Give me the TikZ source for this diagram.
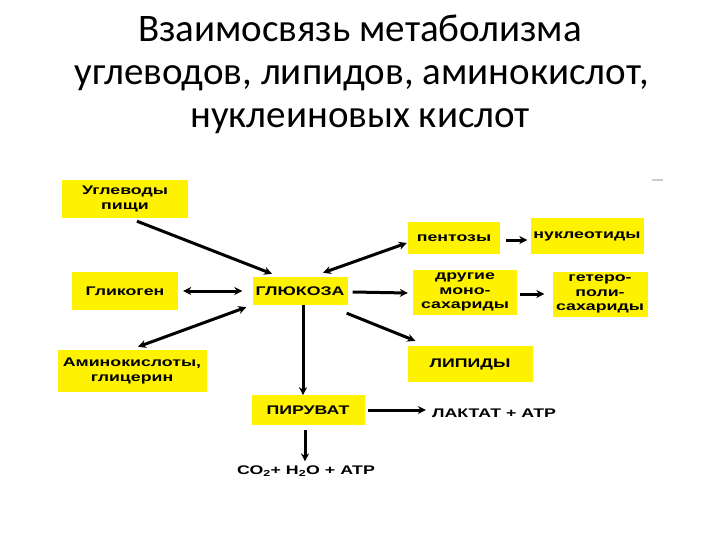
\documentclass[tikz,border=0pt]{standalone}
\usepackage{fontspec}
\setmainfont{Carlito}
\newfontfamily\boxfont{Liberation Sans Bold}[FakeStretch=1.42]
\usetikzlibrary{arrows.meta,calc}
\definecolor{boxyellow}{RGB}{255,242,0}
\tikzset{
  ybox/.style={fill=boxyellow, draw=none, inner sep=1pt, align=center,
    font=\boxfont\fontsize{12.5}{14.5}\selectfont},
  plain/.style={inner sep=1pt, align=center,
    font=\boxfont\fontsize{12.5}{14.5}\selectfont},
  conn/.style={line width=3pt, -{Stealth[length=8pt,width=8pt]}},
  biconn/.style={line width=3pt, {Stealth[length=8pt,width=8pt]}-{Stealth[length=8pt,width=8pt]}},
  ttl/.style={font=\fontsize{39}{43}\selectfont, inner sep=0pt, anchor=base}
}
\begin{document}
\begin{tikzpicture}[x=1pt,y=-1pt]
\useasboundingbox (0,0) rectangle (720,540);
% title
\node[ttl] (t1) at (360,42) {Взаимосвязь метаболизма};
\node[ttl] (t2) at (362,85) {углеводов, липидов, аминокислот,};
\node[ttl] (t3) at (360,128) {нуклеиновых кислот};
% boxes
\node[ybox, minimum width=126pt, minimum height=38pt] (ug) at (125,199) {Углеводы\\пищи};
\node[ybox, minimum width=106pt, minimum height=38pt] (gly) at (125,291) {Гликоген};
\node[ybox, minimum width=95pt, minimum height=28pt] (glu) at (300,291) {ГЛЮКОЗА};
\node[ybox, minimum width=149pt, minimum height=42pt] (ami) at (132,371) {Аминокислоты,\\глицерин};
\node[ybox, minimum width=113pt, minimum height=30pt] (pyr) at (308,410) {ПИРУВАТ};
\node[ybox, minimum width=125pt, minimum height=36pt] (lip) at (470,364) {ЛИПИДЫ};
\node[ybox, minimum width=92pt, minimum height=31pt] (pen) at (454,238) {пентозы};
\node[ybox, minimum width=113pt, minimum height=35pt] (nuc) at (587,236) {нуклеотиды};
\node[ybox, minimum width=104pt, minimum height=45pt] (mon) at (465,292) {другие\\моно-\\сахариды};
\node[ybox, minimum width=95pt, minimum height=45pt] (het) at (600,294) {гетеро-\\поли-\\сахариды};
\node[plain] (lac) at (494,413) {ЛАКТАТ + АТР};
\node[plain] (co2) at (306,471) {СО\textsubscript{2}+ Н\textsubscript{2}О + АТР};
% connectors
\draw[conn] ($(ug.south)+(12,3)$) -- ($(glu.north)+(-28,-3)$);
\draw[biconn] ($(gly.east)+(5,0)$) -- ($(glu.west)+(-10,0)$);
\draw[biconn] ($(glu.north)+(23,-4)$) -- ($(pen.west)+(-1,5)$);
\draw[conn] ($(pen.east)+(6,2)$) -- ($(nuc.west)+(-3,4)$);
\draw[conn] ($(glu.east)+(5,1)$) -- ($(mon.west)+(-5,1)$);
\draw[conn] ($(mon.east)+(3,2)$) -- ($(het.west)+(-8,0)$);
\draw[conn] ($(glu.south east)+(-1,8)$) -- ($(lip.north west)+(8,-5)$);
\draw[biconn] ($(glu.south west)+(-6,2)$) -- ($(ami.north)+(6,-3)$);
\draw[conn] ($(glu.south)+(3,0)$) -- ($(glu.south)+(3,90)$) coordinate (pt);
\draw[conn] ($(pyr.east)+(3,0)$) -- ($(pyr.east -| lac.west)+(-5,0)$);
\draw[conn] ($(pyr.south)+(-3,5)$) -- ($(co2.north)+(-1,-3)$);
% faint mark
\draw[gray!40, line width=1.5pt] (652,180) -- (663,180);
\end{tikzpicture}
\end{document}
